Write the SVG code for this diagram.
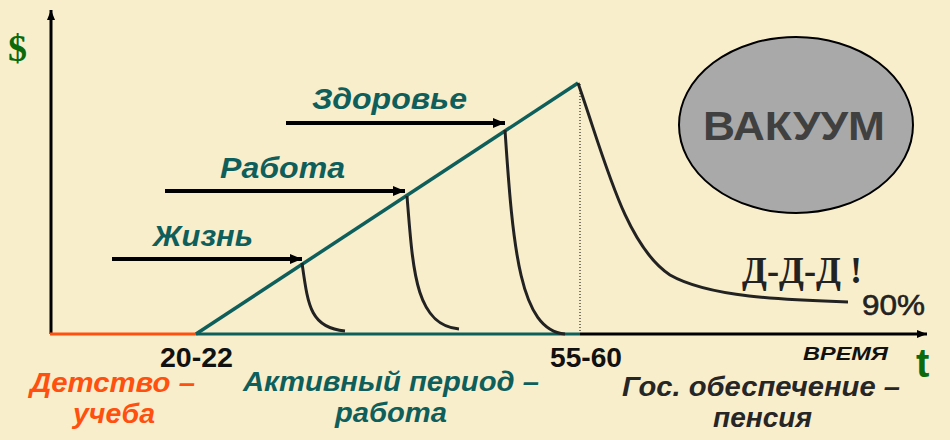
<svg xmlns="http://www.w3.org/2000/svg" width="950" height="440" viewBox="0 0 950 440">
<defs>
<marker id="ah" viewBox="0 0 12 10" refX="12" refY="5" markerWidth="12" markerHeight="10" markerUnits="userSpaceOnUse" orient="auto"><path d="M0,0 L12,5 L0,10 Z" fill="#000"/></marker>
<marker id="ahs" viewBox="0 0 10 8" refX="10" refY="4" markerWidth="10" markerHeight="8" markerUnits="userSpaceOnUse" orient="auto"><path d="M0,0 L10,4 L0,8 Z" fill="#000"/></marker>
</defs>
<style>
.sans{font-family:"Liberation Sans",Arial,sans-serif;font-weight:bold}
.it{font-style:italic}
.teal{fill:#0E5F5C}
.drop{fill:none;stroke:#222;stroke-width:3}
.arr{stroke:#000;stroke-width:4;marker-end:url(#ah)}
</style>
<rect width="950" height="440" fill="#F9EECB"/>
<g id="connectors">
<line x1="51" y1="334" x2="51" y2="10" stroke="#000" stroke-width="3" marker-end="url(#ahs)"/>
<line x1="50" y1="334" x2="196" y2="334" stroke="#FF5010" stroke-width="3"/>
<line x1="196" y1="334" x2="580" y2="334" stroke="#0E5F5C" stroke-width="3"/>
<line x1="580" y1="334" x2="927" y2="334" stroke="#000" stroke-width="3" marker-end="url(#ahs)"/>
<line x1="580" y1="84" x2="580" y2="333" stroke="#000" stroke-width="1" stroke-dasharray="1,2"/>
<line x1="196" y1="334" x2="578" y2="83" stroke="#0E5F5C" stroke-width="3.5"/>
<path class="drop" d="M578,83 C605,160 625,245 670,275 C710,298 790,300 848,302"/>
<path class="drop" d="M302,263 C308,305 310,328 345,331"/>
<path class="drop" d="M407,196 C413,270 415,325 459,329"/>
<path class="drop" d="M505,130 C513,250 520,330 565,334"/>
<line class="arr" x1="112" y1="259" x2="302" y2="259"/>
<line class="arr" x1="165" y1="191" x2="405" y2="191"/>
<line class="arr" x1="286" y1="123" x2="505" y2="123"/>
</g>
<g id="vacuum">
<ellipse cx="796" cy="125" rx="117" ry="88" fill="#A9A9A9" stroke="#000" stroke-width="2"/>
<text x="794" y="140" text-anchor="middle" class="sans" font-size="41" fill="#404040" textLength="182" lengthAdjust="spacingAndGlyphs">ВАКУУМ</text>
</g>
<g id="axis-labels">
<text x="8" y="61" font-family="'Liberation Serif',serif" font-weight="bold" font-size="38" fill="#0B6A0B">$</text>
<text x="916" y="377" class="sans" font-size="40" fill="#0B6A0B">t</text>
<text x="803" y="360" class="sans it" font-size="18" fill="#111" textLength="85" lengthAdjust="spacingAndGlyphs">ВРЕМЯ</text>
<text x="160" y="367" class="sans" font-size="28" fill="#111" textLength="73" lengthAdjust="spacingAndGlyphs">20-22</text>
<text x="550" y="367" class="sans" font-size="28" fill="#111" textLength="72" lengthAdjust="spacingAndGlyphs">55-60</text>
</g>
<g id="life">
<text x="153" y="246" class="sans it teal" font-size="30" textLength="100" lengthAdjust="spacingAndGlyphs">Жизнь</text>
</g>
<g id="work">
<text x="220" y="178" class="sans it teal" font-size="30" textLength="125" lengthAdjust="spacingAndGlyphs">Работа</text>
</g>
<g id="health">
<text x="312" y="109" class="sans it teal" font-size="30" textLength="155" lengthAdjust="spacingAndGlyphs">Здоровье</text>
</g>
<g id="ddd">
<text x="742" y="283" font-family="'Liberation Serif',serif" font-weight="bold" font-size="38" fill="#222" textLength="120" lengthAdjust="spacingAndGlyphs">Д-Д-Д !</text>
<text x="862" y="315" font-family="'Liberation Sans',Arial,sans-serif" font-size="29" fill="#222" stroke="#222" stroke-width="0.6" textLength="63" lengthAdjust="spacingAndGlyphs">90%</text>
</g>
<g id="childhood">
<text x="30" y="392" class="sans it" font-size="28" fill="#FF5010" textLength="165" lengthAdjust="spacingAndGlyphs">Детство –</text>
<text x="73" y="423" class="sans it" font-size="28" fill="#FF5010" textLength="82" lengthAdjust="spacingAndGlyphs">учеба</text>
</g>
<g id="active">
<text x="243" y="391" class="sans it teal" font-size="28" textLength="296" lengthAdjust="spacingAndGlyphs">Активный период –</text>
<text x="335" y="422" class="sans it teal" font-size="28" textLength="112" lengthAdjust="spacingAndGlyphs">работа</text>
</g>
<g id="pension">
<text x="622" y="396" class="sans it" font-size="28" fill="#262626" textLength="278" lengthAdjust="spacingAndGlyphs">Гос. обеспечение –</text>
<text x="713" y="427" class="sans it" font-size="28" fill="#262626" textLength="99" lengthAdjust="spacingAndGlyphs">пенсия</text>
</g>
</svg>
